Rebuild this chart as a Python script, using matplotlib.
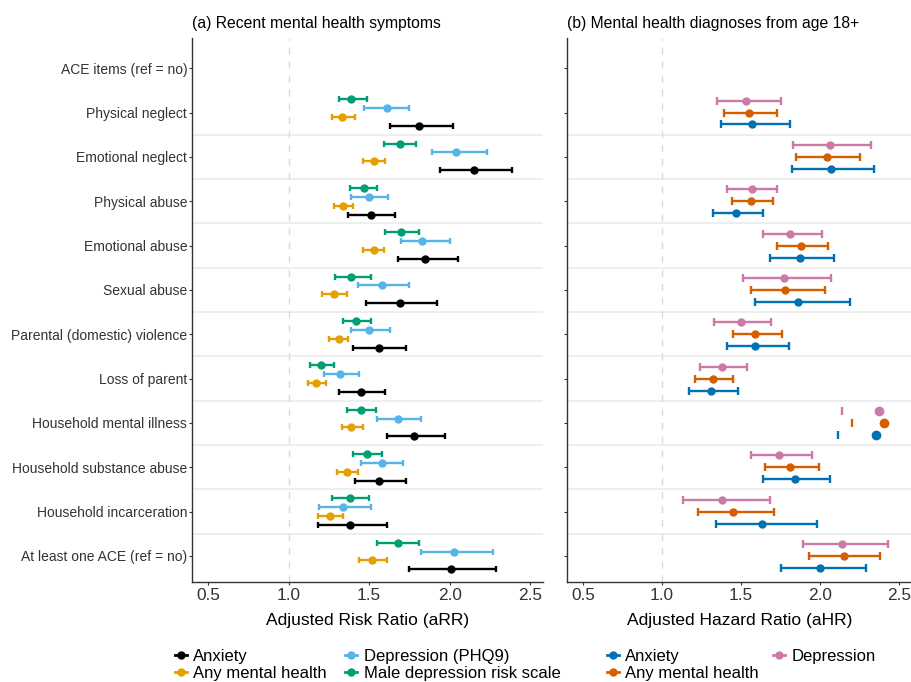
import numpy as np
import matplotlib
matplotlib.use('Agg')
import matplotlib.pyplot as plt
from matplotlib.lines import Line2D

plt.rcParams['font.family'] = ['Liberation Sans', 'DejaVu Sans']

nan = np.nan

categories = ['ACE items (ref = no)', 'Physical neglect', 'Emotional neglect',
              'Physical abuse', 'Emotional abuse', 'Sexual abuse',
              'Parental (domestic) violence', 'Loss of parent',
              'Household mental illness', 'Household substance abuse',
              'Household incarceration', 'At least one ACE (ref = no)']

# (a) adjusted risk ratios, recent symptoms
anx_rr = [nan, 1.81, 2.15, 1.51, 1.85, 1.69, 1.56, 1.45, 1.78, 1.56, 1.38, 2.01]
anx_rr_lo = [nan, 1.63, 1.94, 1.37, 1.68, 1.48, 1.40, 1.31, 1.61, 1.41, 1.18, 1.75]
anx_rr_hi = [nan, 2.02, 2.39, 1.66, 2.05, 1.92, 1.73, 1.60, 1.97, 1.73, 1.61, 2.29]

phq_rr = [nan, 1.61, 2.04, 1.50, 1.83, 1.58, 1.50, 1.32, 1.68, 1.58, 1.34, 2.03]
phq_rr_lo = [nan, 1.47, 1.89, 1.39, 1.70, 1.43, 1.39, 1.22, 1.55, 1.45, 1.19, 1.82]
phq_rr_hi = [nan, 1.75, 2.23, 1.62, 2.00, 1.75, 1.63, 1.44, 1.82, 1.71, 1.51, 2.27]

amh_rr = [nan, 1.33, 1.53, 1.34, 1.53, 1.28, 1.31, 1.17, 1.39, 1.36, 1.26, 1.52]
amh_rr_lo = [nan, 1.27, 1.46, 1.28, 1.46, 1.21, 1.25, 1.12, 1.33, 1.30, 1.18, 1.44]
amh_rr_hi = [nan, 1.41, 1.60, 1.40, 1.59, 1.36, 1.37, 1.23, 1.46, 1.43, 1.34, 1.61]

mdrs_rr = [nan, 1.39, 1.69, 1.47, 1.70, 1.39, 1.42, 1.20, 1.45, 1.49, 1.38, 1.68]
mdrs_rr_lo = [nan, 1.31, 1.59, 1.38, 1.60, 1.29, 1.34, 1.13, 1.36, 1.40, 1.27, 1.55]
mdrs_rr_hi = [nan, 1.49, 1.79, 1.55, 1.81, 1.51, 1.51, 1.28, 1.54, 1.58, 1.50, 1.81]

# (b) adjusted hazard ratios, diagnoses from 18
# household mental illness: upper limit runs off the scale
anx_hr = [nan, 1.57, 2.07, 1.47, 1.87, 1.86, 1.59, 1.31, 2.35, 1.84, 1.63, 2.00]
anx_hr_lo = [nan, 1.37, 1.82, 1.32, 1.68, 1.59, 1.41, 1.17, 2.11, 1.64, 1.34, 1.75]
anx_hr_hi = [nan, 1.81, 2.34, 1.64, 2.09, 2.19, 1.80, 1.48, nan, 2.06, 1.98, 2.29]

amh_hr = [nan, 1.55, 2.04, 1.56, 1.88, 1.78, 1.59, 1.32, 2.40, 1.81, 1.45, 2.15]
amh_hr_lo = [nan, 1.39, 1.85, 1.44, 1.73, 1.56, 1.45, 1.21, 2.20, 1.65, 1.23, 1.93]
amh_hr_hi = [nan, 1.73, 2.25, 1.70, 2.05, 2.03, 1.76, 1.45, nan, 1.99, 1.71, 2.38]

dep_hr = [nan, 1.53, 2.06, 1.57, 1.81, 1.77, 1.50, 1.38, 2.37, 1.74, 1.38, 2.14]
dep_hr_lo = [nan, 1.35, 1.83, 1.41, 1.64, 1.51, 1.33, 1.24, 2.14, 1.56, 1.13, 1.89]
dep_hr_hi = [nan, 1.75, 2.32, 1.73, 2.01, 2.07, 1.69, 1.54, nan, 1.95, 1.68, 2.43]

BLACK = '#000000'
ORANGE = '#E69F00'
SKY = '#56B4E9'
GREEN = '#009E73'
BLUE = '#0072B2'
VERM = '#D55E00'
PINK = '#CC79A7'


def draw_ci(ax, ypos, est, lo, hi, color, cap):
    est = np.array(est)
    lo = np.array(lo)
    hi = np.array(hi)
    full = ~np.isnan(hi)
    ax.errorbar(est[full], ypos[full],
                xerr=[est[full] - lo[full], hi[full] - est[full]],
                fmt='o', color=color, ms=5, lw=1.7, capsize=cap,
                capthick=1.7, zorder=3)
    part = np.isnan(hi) & ~np.isnan(lo)
    if part.any():
        ax.plot(lo[part], ypos[part], ls='none', marker='|', ms=2 * cap,
                mew=1.7, color=color, zorder=3)
        ax.plot(est[part], ypos[part], ls='none', marker='o', ms=6,
                color=color, zorder=3)


def style_axis(ax, xlabel, title, show_labels):
    ax.set_xlim(0.40, 2.58)
    ax.set_ylim(11.58, -0.68)
    ax.set_xticks([0.5, 1.0, 1.5, 2.0, 2.5])
    ax.set_xticklabels(['0.5', '1.0', '1.5', '2.0', '2.5'])
    ax.set_yticks(range(len(categories)))
    if show_labels:
        ax.set_yticklabels(categories)
    else:
        ax.set_yticklabels([])
    ax.tick_params(axis='y', length=2.5, pad=1, labelsize=10,
                   color='#333333', labelcolor='#333333')
    ax.tick_params(axis='x', length=2.5, pad=2, labelsize=12.4,
                   color='#333333', labelcolor='#333333')
    for s in ['top', 'right']:
        ax.spines[s].set_visible(False)
    for s in ['left', 'bottom']:
        ax.spines[s].set_color('#333333')
        ax.spines[s].set_linewidth(1.0)
    for i in range(1, len(categories) - 1):
        ax.axhline(i + 0.5, color='#EBEBEB', lw=1.2, zorder=0)
    ax.axvline(1.0, color='#DADADA', lw=1.0, ls=(0, (5, 5)), zorder=1)
    ax.set_xlabel(xlabel, fontsize=12.5, labelpad=7)
    ax.set_title(title, loc='left', fontsize=11.3, pad=7)


fig = plt.figure(figsize=(9.12, 6.82), dpi=100)
ax1 = fig.add_axes([192 / 912, 1 - 581.7 / 682, 351 / 912, 543.7 / 682])
ax2 = fig.add_axes([567 / 912, 1 - 581.7 / 682, 345 / 912, 543.7 / 682])

y = np.arange(len(categories), dtype=float)

# panel a: four outcomes dodged within each ACE row
draw_ci(ax1, y - 0.3, mdrs_rr, mdrs_rr_lo, mdrs_rr_hi, GREEN, 2.2)
draw_ci(ax1, y - 0.1, phq_rr, phq_rr_lo, phq_rr_hi, SKY, 2.2)
draw_ci(ax1, y + 0.1, amh_rr, amh_rr_lo, amh_rr_hi, ORANGE, 2.2)
draw_ci(ax1, y + 0.3, anx_rr, anx_rr_lo, anx_rr_hi, BLACK, 2.2)
style_axis(ax1, 'Adjusted Risk Ratio (aRR)',
           '(a) Recent mental health symptoms', True)

# panel b: three diagnoses
draw_ci(ax2, y - 0.27, dep_hr, dep_hr_lo, dep_hr_hi, PINK, 3)
draw_ci(ax2, y, amh_hr, amh_hr_lo, amh_hr_hi, VERM, 3)
draw_ci(ax2, y + 0.27, anx_hr, anx_hr_lo, anx_hr_hi, BLUE, 3)
style_axis(ax2, 'Adjusted Hazard Ratio (aHR)',
           '(b) Mental health diagnoses from age 18+', False)


def key(color):
    return Line2D([0], [0], color=color, lw=2, marker='o', ms=5)


fig.legend([key(BLACK), key(ORANGE), key(SKY), key(GREEN)],
           ['Anxiety', 'Any mental health', 'Depression (PHQ9)',
            'Male depression risk scale'],
           loc='center left', bbox_to_anchor=(175 / 912, 1 - 665 / 682),
           ncol=2, frameon=False, fontsize=12, handlelength=0.7,
           handletextpad=0.4, columnspacing=1.1, labelspacing=0.15,
           borderpad=0, borderaxespad=0)

fig.legend([key(BLUE), key(VERM), key(PINK)],
           ['Anxiety', 'Any mental health', 'Depression'],
           loc='center left', bbox_to_anchor=(607 / 912, 1 - 665 / 682),
           ncol=2, frameon=False, fontsize=12, handlelength=0.7,
           handletextpad=0.4, columnspacing=0.85, labelspacing=0.15,
           borderpad=0, borderaxespad=0)

fig.savefig('out.png', dpi=100)
